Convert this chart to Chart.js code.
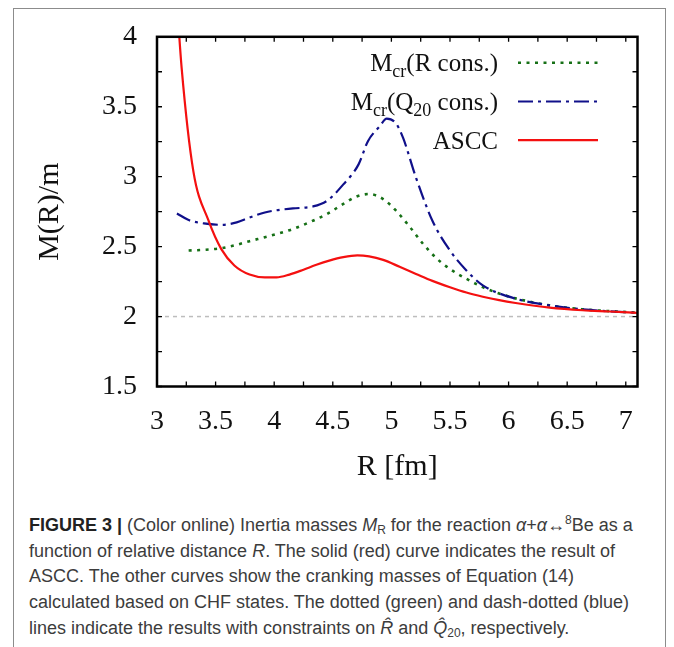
<!DOCTYPE html>
<html>
<head>
<meta charset="utf-8">
<script src="https://cdn.jsdelivr.net/npm/chart.js@4.4.1/dist/chart.umd.min.js"></script>
<style>
  html, body { margin: 0; padding: 0; background: #fff; }
  body { width: 674px; height: 647px; position: relative; overflow: hidden; }
  #frame { position: absolute; left: 13px; top: 8px; width: 653px; height: 700px; border: 1.5px solid #8c8c8c; box-sizing: border-box; }
  #c { position: absolute; left: 0; top: 0; }
  #caption { position: absolute; left: 29px; top: 513px; width: 640px; font-family: "Liberation Sans Narrow", "Liberation Sans", sans-serif; font-size: 18px; line-height: 25.7px; color: #3c3c3c; white-space: nowrap; }
  #caption b { color: #222; }
  #caption sub { font-size: 12px; vertical-align: -3px; line-height: 0; }
  #caption sup { font-size: 12px; vertical-align: 7px; line-height: 0; }
</style>
</head>
<body>
<div id="frame"></div>
<canvas id="c" width="674" height="490"></canvas>
<div id="caption">
<div><b>FIGURE 3 |</b> (Color online) Inertia masses <i>M</i><sub>R</sub> for the reaction <i>α</i>+<i>α</i>↔<sup>8</sup>Be as a</div>
<div>function of relative distance <i>R</i>. The solid (red) curve indicates the result of</div>
<div>ASCC. The other curves show the cranking masses of Equation (14)</div>
<div>calculated based on CHF states. The dotted (green) and dash-dotted (blue)</div>
<div>lines indicate the results with constraints on <i>R̂</i> and <i>Q̂</i><sub>20</sub>, respectively.</div>
</div>
<script>
// ---- data ----
const rConsR = [3.27, 3.40, 3.55, 3.68, 3.79, 3.92, 4.02, 4.16, 4.33, 4.45, 4.59, 4.70, 4.81, 4.93, 5.04, 5.16, 5.27, 5.38, 5.50, 5.64, 5.78, 5.92, 6.06, 6.35, 6.63, 7.10];
const rConsM = [2.472, 2.477, 2.489, 2.513, 2.539, 2.567, 2.590, 2.626, 2.685, 2.733, 2.805, 2.857, 2.876, 2.840, 2.757, 2.638, 2.520, 2.420, 2.340, 2.270, 2.210, 2.165, 2.130, 2.080, 2.052, 2.028];

const q20R = [3.17, 3.27, 3.40, 3.55, 3.68, 3.79, 3.92, 4.02, 4.16, 4.33, 4.45, 4.59, 4.72, 4.80, 4.90, 4.96, 5.04, 5.10, 5.21, 5.35, 5.50, 5.64, 5.78, 6.06, 6.35, 6.63, 7.10];
const q20M = [2.737, 2.690, 2.666, 2.656, 2.673, 2.708, 2.744, 2.760, 2.773, 2.787, 2.827, 2.945, 3.088, 3.254, 3.360, 3.415, 3.380, 3.277, 2.993, 2.685, 2.472, 2.330, 2.223, 2.128, 2.080, 2.052, 2.026];

const asccR = [3.17, 3.21, 3.31, 3.44, 3.55, 3.66, 3.79, 3.92, 4.02, 4.13, 4.25, 4.36, 4.47, 4.59, 4.71, 4.81, 4.93, 5.07, 5.21, 5.35, 5.50, 5.64, 5.78, 5.92, 6.06, 6.35, 6.63, 6.86, 7.10];
const asccM = [4.25, 3.78, 3.04, 2.685, 2.480, 2.365, 2.300, 2.280, 2.280, 2.300, 2.335, 2.370, 2.400, 2.425, 2.437, 2.430, 2.405, 2.356, 2.305, 2.255, 2.210, 2.172, 2.142, 2.117, 2.097, 2.064, 2.045, 2.036, 2.026];

const refR = [3, 7.1];
const refM = [2, 2];

const xTicks = [3, 3.5, 4, 4.5, 5, 5.5, 6, 6.5, 7];
const xTickLabels = ["3", "3.5", "4", "4.5", "5", "5.5", "6", "6.5", "7"];
const yTicks = [1.5, 2, 2.5, 3, 3.5, 4];
const yTickLabels = ["1.5", "2", "2.5", "3", "3.5", "4"];
const xMinor = [3, 3.25, 3.5, 3.75, 4, 4.25, 4.5, 4.75, 5, 5.25, 5.5, 5.75, 6, 6.25, 6.5, 6.75, 7];
const yMinor = [1.5, 1.75, 2, 2.25, 2.5, 2.75, 3, 3.25, 3.5, 3.75, 4];

const xTitle = "R [fm]";
const yTitle = "M(R)/m";
// legend label pieces: [text, isSubscript]
const legendRCons = [["M", false], ["cr", true], ["(R cons.)", false]];
const legendQ20 = [["M", false], ["cr", true], ["(Q", false], ["20", true], [" cons.)", false]];
const legendAscc = [["ASCC", false]];

const pts = (xs, ys) => xs.map((v, i) => ({ x: v, y: ys[i] }));
const SERIF = '"Liberation Serif", "Times New Roman", serif';

const boxPlugin = {
  id: 'boxTicksLegend',
  afterDatasetsDraw(chart) {
    const { ctx, chartArea: a, scales: { x, y } } = chart;
    ctx.save();
    ctx.strokeStyle = '#000';
    ctx.lineWidth = 1.3;
    ctx.beginPath();
    xMinor.forEach(v => {
      const px = x.getPixelForValue(v);
      ctx.moveTo(px, a.bottom); ctx.lineTo(px, a.bottom - 5);
      ctx.moveTo(px, a.top); ctx.lineTo(px, a.top + 5);
    });
    yMinor.forEach(v => {
      const py = y.getPixelForValue(v);
      ctx.moveTo(a.left, py); ctx.lineTo(a.left + 5, py);
      ctx.moveTo(a.right, py); ctx.lineTo(a.right - 5, py);
    });
    ctx.stroke();
    ctx.lineWidth = 2.5;
    ctx.strokeRect(a.left, a.top, a.right - a.left, a.bottom - a.top);

    const entries = chart.data.datasets.filter(d => d.legendParts);
    const textRight = a.right - 139.5;
    const lineX0 = a.right - 119.5, lineX1 = a.right - 39.5;
    entries.forEach((ds, i) => {
      const base = a.top + 34.5 + i * 38.7;
      const mainFont = '25px ' + SERIF;
      const subFont = '18px ' + SERIF;
      let w = 0;
      ds.legendParts.forEach(([t, sub]) => { ctx.font = sub ? subFont : mainFont; w += ctx.measureText(t).width; });
      let cx = textRight - w;
      ctx.fillStyle = '#111';
      ctx.textBaseline = 'alphabetic';
      ctx.textAlign = 'left';
      ds.legendParts.forEach(([t, sub]) => {
        ctx.font = sub ? subFont : mainFont;
        ctx.fillText(t, cx, sub ? base + 6 : base);
        cx += ctx.measureText(t).width;
      });
      ctx.beginPath();
      ctx.strokeStyle = ds.borderColor;
      ctx.lineWidth = ds.borderWidth;
      ctx.setLineDash(ds.borderDash || []);
      const ly = base - 8.5;
      ctx.moveTo(lineX0, ly); ctx.lineTo(lineX1, ly);
      ctx.stroke();
      ctx.setLineDash([]);
    });
    ctx.restore();
  }
};

new Chart(document.getElementById('c'), {
  type: 'line',
  data: {
    datasets: [
      { label: 'Mcr(R cons.)', legendParts: legendRCons, data: pts(rConsR, rConsM), borderColor: '#167016', borderWidth: 2.6, borderDash: [3, 5.5], order: 2, cubicInterpolationMode: 'monotone' },
      { label: 'Mcr(Q20 cons.)', legendParts: legendQ20, data: pts(q20R, q20M), borderColor: '#10108a', borderWidth: 2.2, borderDash: [15, 5, 3, 5], order: 1, cubicInterpolationMode: 'monotone' },
      { label: 'ASCC', legendParts: legendAscc, data: pts(asccR, asccM), borderColor: '#f41010', borderWidth: 2.2, order: 0, cubicInterpolationMode: 'monotone' },
      { label: 'ref', data: pts(refR, refM), borderColor: '#bdbdbd', borderWidth: 1.5, borderDash: [4, 4], order: 5 }
    ]
  },
  options: {
    responsive: false,
    animation: false,
    devicePixelRatio: 1,
    layout: { padding: { left: 0, top: 35.5, right: 36.5, bottom: 0 } },
    elements: { point: { radius: 0, hoverRadius: 0 }, line: { fill: false } },
    plugins: { legend: { display: false }, tooltip: { enabled: false } },
    scales: {
      x: {
        type: 'linear', min: 3, max: 7.1,
        afterBuildTicks: s => { s.ticks = xTicks.map(v => ({ value: v })); },
        afterFit: s => { s.height = 103.5; },
        grid: { display: false, drawTicks: false },
        border: { display: false },
        ticks: { padding: 18, color: '#111', font: { family: SERIF, size: 28 }, maxRotation: 0,
                 callback: v => xTickLabels[xTicks.indexOf(v)] },
        title: { display: true, text: xTitle, color: '#111', font: { family: SERIF, size: 30 }, padding: { top: 0, bottom: 5 } }
      },
      y: {
        type: 'linear', min: 1.5, max: 4,
        afterBuildTicks: s => { s.ticks = yTicks.map(v => ({ value: v })); },
        afterFit: s => { s.width = 157; },
        grid: { display: false, drawTicks: false },
        border: { display: false },
        ticks: { padding: 20, color: '#111', font: { family: SERIF, size: 28 },
                 callback: v => yTickLabels[yTicks.indexOf(v)] },
        title: { display: true, text: yTitle, color: '#111', font: { family: SERIF, size: 30 }, padding: { top: 32, bottom: 0 } }
      }
    }
  },
  plugins: [boxPlugin]
});
</script>
</body>
</html>
